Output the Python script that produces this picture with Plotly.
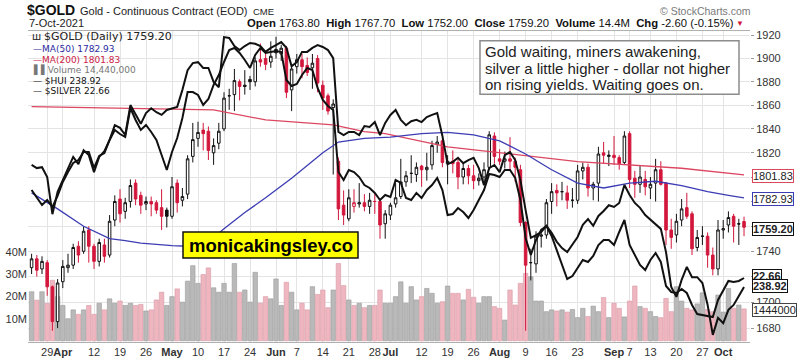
import pandas as pd
import plotly.graph_objects as go

# ---------------- data ----------------
holidays = ['2021-04-02', '2021-05-31', '2021-07-05', '2021-09-06']
dates = [d.strftime('%Y-%m-%d') for d in pd.bdate_range('2021-03-24', '2021-10-07')
         if d.strftime('%Y-%m-%d') not in holidays]

gold_open = [1727, 1734, 1726, 1731, 1712, 1685, 1716, 1727, 1729, 1744,
             1740, 1757, 1744, 1732, 1745, 1737, 1765, 1782, 1772, 1780,
             1795, 1785, 1778, 1780, 1779, 1775, 1773, 1768, 1795, 1781,
             1786, 1817, 1832, 1839, 1838, 1820, 1828, 1840, 1868, 1869,
             1880, 1877, 1882, 1880, 1899, 1900, 1897, 1908, 1904, 1909,
             1873, 1893, 1899, 1894, 1892, 1900, 1877, 1868, 1858, 1813,
             1777, 1766, 1776, 1778, 1779, 1776, 1780, 1780, 1762, 1769,
             1778, 1784, 1796, 1803, 1802, 1809, 1806, 1810, 1827, 1830,
             1811, 1813, 1812, 1800, 1807, 1801, 1797, 1800, 1808, 1834,
             1815, 1813, 1815, 1813, 1806, 1763, 1731, 1730, 1752, 1753,
             1780, 1789, 1788, 1787, 1781, 1781, 1805, 1808, 1791, 1795,
             1820, 1817, 1818, 1816, 1812, 1836, 1799, 1794, 1798, 1791,
             1795, 1806, 1795, 1757, 1753, 1765, 1775, 1770, 1743, 1752,
             1752, 1737, 1726, 1757, 1761, 1768, 1762, 1763.8]
gold_high = [1738, 1737, 1736, 1733, 1713, 1718, 1733, 1738, 1746, 1748,
             1760, 1760, 1746, 1750, 1750, 1769, 1785, 1790, 1783, 1798,
             1798, 1788, 1784, 1784, 1781, 1790, 1775, 1800, 1798, 1791,
             1818, 1845, 1846, 1845, 1842, 1832, 1845, 1871, 1874, 1891,
             1882, 1890, 1885, 1901, 1913, 1906, 1915, 1919, 1912, 1911,
             1895, 1904, 1904, 1901, 1904, 1903, 1881, 1870, 1865, 1816,
             1789, 1790, 1790, 1795, 1786, 1787, 1787, 1782, 1773, 1779,
             1795, 1815, 1805, 1818, 1812, 1810, 1820, 1830, 1834, 1832,
             1818, 1822, 1815, 1811, 1810, 1810, 1803, 1812, 1838, 1837,
             1823, 1821, 1833, 1816, 1810, 1764, 1742, 1756, 1758, 1782,
             1795, 1794, 1796, 1793, 1791, 1810, 1812, 1811, 1796, 1825,
             1829, 1822, 1834, 1818, 1838, 1838, 1805, 1809, 1805, 1800,
             1815, 1813, 1796, 1766, 1770, 1782, 1787, 1772, 1757, 1760,
             1755, 1743, 1765, 1765, 1772, 1770, 1766, 1767.7]
gold_low = [1722, 1720, 1722, 1705, 1678, 1680, 1711, 1723, 1726, 1731,
            1738, 1731, 1726, 1728, 1731, 1735, 1760, 1763, 1766, 1775,
            1777, 1770, 1773, 1768, 1770, 1757, 1759, 1766, 1771, 1776,
            1782, 1812, 1825, 1822, 1814, 1810, 1823, 1838, 1856, 1855,
            1864, 1869, 1873, 1876, 1893, 1890, 1892, 1900, 1898, 1866,
            1855, 1887, 1883, 1885, 1874, 1871, 1856, 1852, 1802, 1765,
            1761, 1764, 1771, 1775, 1772, 1770, 1770, 1750, 1750, 1765,
            1775, 1782, 1792, 1795, 1796, 1792, 1797, 1806, 1820, 1808,
            1794, 1803, 1790, 1794, 1794, 1790, 1793, 1796, 1806, 1811,
            1810, 1807, 1805, 1796, 1760, 1678, 1717, 1723, 1743, 1750,
            1770, 1776, 1781, 1774, 1775, 1778, 1798, 1784, 1781, 1780,
            1811, 1809, 1810, 1806, 1810, 1791, 1783, 1787, 1785, 1782,
            1780, 1793, 1745, 1742, 1747, 1760, 1766, 1737, 1740, 1745,
            1727, 1721, 1721, 1750, 1755, 1747, 1745, 1752.0]
gold_close = [1734, 1725, 1732, 1712, 1685, 1715, 1728, 1729, 1743, 1737,
              1756, 1744, 1732, 1747, 1736, 1764, 1780, 1770, 1779, 1793,
              1782, 1777, 1780, 1778, 1773, 1768, 1768, 1792, 1779, 1784,
              1815, 1831, 1837, 1836, 1822, 1826, 1838, 1866, 1868, 1881,
              1876, 1876, 1880, 1898, 1897, 1895, 1902, 1905, 1909, 1871,
              1891, 1899, 1893, 1888, 1896, 1879, 1866, 1855, 1861, 1774,
              1769, 1783, 1779, 1779, 1776, 1781, 1780, 1761, 1770, 1777,
              1783, 1796, 1801, 1803, 1808, 1806, 1808, 1826, 1829, 1812,
              1813, 1811, 1800, 1807, 1801, 1797, 1799, 1806, 1835, 1817,
              1813, 1815, 1813, 1808, 1763, 1729, 1731, 1752, 1753, 1779,
              1788, 1787, 1788, 1781, 1781, 1805, 1808, 1791, 1794, 1819,
              1818, 1818, 1816, 1811, 1834, 1798, 1794, 1800, 1792, 1794,
              1806, 1794, 1757, 1751, 1764, 1774, 1768, 1742, 1751, 1752,
              1737, 1726, 1757, 1758, 1767, 1760, 1761.8, 1759.2]
volume_m = [22.2, 18.4, 22.2, 16.9, 27.4, 20, 16, 10, 14, 12,
            14, 16, 12, 17, 14, 19, 17, 18, 16, 17,
            16, 16.5, 13.5, 14, 18.5, 22, 16, 20, 23.5, 17.5,
            27, 34, 26, 30, 33, 24, 22, 26, 22, 35,
            22, 23, 17.5, 31, 17, 20, 19, 28, 16, 26.5,
            22, 14, 17, 14, 24.5, 21, 23, 15, 23, 35,
            25, 18.5, 16, 17, 15, 16, 16, 23, 17, 17,
            20, 26.7, 17, 24.5, 18.5, 20, 23.7, 21.5, 17, 17.7,
            24.8, 21.5, 21.5, 18.5, 23.3, 19.7, 17, 20, 20, 15.5,
            14.7, 9.4, 23, 16.2, 26, 30.5, 29, 18, 18, 13.2,
            14, 13.5, 14, 13, 14.2, 10.5, 14.7, 11, 15.7, 13.2,
            19.6, 10.5, 17, 14.7, 10.8, 18, 24.8, 15.5, 14.7, 13.2,
            11, 10.5, 19.2, 13.2, 24.5, 18, 14.7, 14, 16.7, 21.7,
            14.2, 13.2, 20.7, 13, 23.7, 14.7, 16.2, 14.44]
hui = [263.09, 261.17, 258.97, 260.35, 258.42, 261.45, 265.29, 268.04, 270.51, 271.33,
       273.53, 273.53, 269.14, 272.43, 273.26, 276.83, 279.58, 278.48, 277.65, 285.62,
       282.32, 279.58, 280.95, 279.03, 276.83, 272.71, 268.59, 273.53, 277.38, 282.87,
       290.01, 290.01, 289.19, 286.44, 288.09, 291.94, 294.68, 298.26, 301.55, 302.10,
       300.73, 298.80, 296.61, 300.18, 302.10, 300.73, 301.00, 301.28, 301.00, 293.31,
       291.66, 292.21, 294.68, 296.61, 296.06, 291.11, 287.82, 286.17, 285.07, 268.04,
       265.84, 268.59, 268.04, 266.66, 264.47, 263.64, 262.27, 260.35, 261.72, 261.17,
       265.84, 265.02, 260.90, 260.35, 262.27, 260.90, 263.09, 264.47, 266.39, 263.09,
       256.23, 256.50, 258.15, 257.05, 255.40, 257.60, 260.35, 263.09, 267.49, 267.21,
       266.66, 268.59, 268.59, 266.39, 260.35, 249.91, 245.24, 249.36, 252.11, 253.20,
       250.46, 246.61, 242.49, 238.65, 239.47, 241.67, 243.86, 243.32, 244.96, 247.99,
       249.36, 249.36, 247.99, 251.56, 254.85, 247.99, 245.24, 242.49, 241.12, 243.86,
       245.79, 243.32, 236.72, 235.07, 234.80, 235.90, 234.80, 231.50, 229.03, 228.76,
       228.48, 228.21, 232.88, 235.62, 238.10, 237.82, 238.10, 238.92]
silver = [25.39, 25.32, 25.34, 25.12, 24.29, 24.79, 25.05, 25.32, 25.57, 25.41,
          25.72, 25.61, 25.23, 25.57, 25.70, 25.95, 26.28, 26.22, 26.06, 26.73,
          26.51, 26.31, 26.55, 26.66, 26.57, 26.51, 26.62, 26.66, 26.69, 27.07,
          27.51, 27.67, 27.69, 27.56, 27.56, 27.25, 27.13, 28.25, 28.23, 28.05,
          27.96, 28.05, 28.12, 28.10, 28.05, 27.92, 28.01, 28.07, 28.14, 28.01,
          27.60, 27.69, 27.92, 27.92, 28.01, 28.07, 28.03, 27.96, 27.78, 26.13,
          26.06, 26.13, 26.13, 26.06, 26.26, 26.24, 26.35, 26.06, 26.33, 26.51,
          26.62, 26.40, 26.28, 26.37, 26.40, 26.35, 26.46, 26.51, 26.55, 26.04,
          25.41, 25.46, 25.55, 25.43, 25.50, 25.55, 25.32, 24.94, 25.32, 25.39,
          25.23, 25.61, 25.68, 25.50, 25.05, 24.38, 23.76, 23.82, 23.89, 24.03,
          23.87, 23.67, 23.53, 23.44, 23.62, 23.78, 24.05, 24.18, 24.03, 24.25,
          24.36, 24.49, 24.45, 24.54, 24.94, 24.72, 24.54, 24.43, 24.27, 24.16,
          24.07, 23.96, 23.44, 22.66, 22.44, 22.82, 23.11, 22.88, 22.88, 22.75,
          22.26, 21.59, 21.97, 21.85, 22.15, 22.26, 22.46, 22.66]
ma50_idx = [0, 5, 10, 15, 18, 21, 27, 30, 33, 35, 37, 41, 45, 50, 56, 59, 64, 69, 75, 80,
            85, 90, 95, 100, 105, 110, 115, 120, 125, 130, 134, 137]
ma50_val = [1787, 1774, 1760, 1750, 1748.5, 1746.5, 1744.5, 1744, 1747, 1751, 1758, 1771,
            1783, 1799, 1820, 1829, 1832, 1833, 1836, 1837, 1835, 1830, 1819, 1806, 1795,
            1791, 1795, 1796.5, 1793, 1788, 1785, 1782.93]
ma200_idx = [0, 22, 35, 45, 58, 64, 68, 80, 105, 125, 132, 137]
ma200_val = [1858.8, 1857.4, 1856, 1847.5, 1843.3, 1837.7, 1836, 1825, 1812.7, 1807.2,
             1804.4, 1801.83]
tick_idx = [3, 6, 12, 17, 22, 27, 32, 37, 42, 47, 51, 56, 61, 66, 69, 75, 80, 85, 90,
            95, 100, 105, 112, 115, 119, 124, 129, 133]
tick_text = ['29', '<b>Apr</b>', '12', '19', '26', '<b>May</b>', '10', '17', '24', '<b>Jun</b>',
             '7', '14', '21', '28', '<b>Jul</b>', '12', '19', '26', '<b>Aug</b>',
             '9', '16', '23', '<b>Sep</b>', '7', '13', '20', '27', '<b>Oct</b>']
price_ticks = [1680, 1700, 1720, 1740, 1760, 1780, 1800, 1820, 1840, 1860, 1880, 1900, 1920]
# labels hidden under the value tags are left blank
price_tick_text = ['1680', '1700', '', '1740', '', '1780', '', '1820', '1840', '1860',
                   '1880', '1900', '1920']
vol_ticks = [10, 20, 30, 40]
vol_tick_text = ['10M', '20M', '30M', '40M']

# ---------------- styling ----------------
RED = '#d3173c'
PINK = '#efb6c0'
GRAY = '#b9b9b9'
BLUE = '#3c3cb4'
MARED = '#dc4660'
ARIAL = 'Liberation Sans, Arial, sans-serif'
VERD = 'DejaVu Sans, Verdana, sans-serif'

L, R, T, B = 28, 750, 31, 342
def fx(px):
    return (px - L) / (R - L)
def fy(py):
    return (B - py) / (B - T)

n = len(dates)
prev = [gold_close[0] - 1] + gold_close[:-1]
up = [gold_close[i] >= prev[i] for i in range(n)]

fig = go.Figure()

# volume (main y axis, bottom layer)
fig.add_trace(go.Bar(
    x=dates, y=volume_m, yaxis='y',
    marker=dict(color=[GRAY if u else PINK for u in up],
                line=dict(color=['#9a9a9a' if u else '#d99aa6' for u in up], width=0.6)),
    hoverinfo='skip', showlegend=False))

# moving averages
fig.add_trace(go.Scatter(x=[dates[i] for i in ma200_idx], y=ma200_val, yaxis='y2',
                         mode='lines', line=dict(color=MARED, width=1.3),
                         hoverinfo='skip', showlegend=False))
fig.add_trace(go.Scatter(x=[dates[i] for i in ma50_idx], y=ma50_val, yaxis='y2',
                         mode='lines', line=dict(color=BLUE, width=1.3),
                         hoverinfo='skip', showlegend=False))

# candles: black = up vs previous close, red = down; hollow if close > open
for flag, col in ((True, '#111111'), (False, RED)):
    idx = [i for i in range(n) if up[i] == flag]
    fig.add_trace(go.Candlestick(
        x=[dates[i] for i in idx],
        open=[gold_open[i] for i in idx], high=[gold_high[i] for i in idx],
        low=[gold_low[i] for i in idx], close=[gold_close[i] for i in idx],
        yaxis='y2',
        increasing=dict(line=dict(color=col, width=1), fillcolor='white'),
        decreasing=dict(line=dict(color=col, width=1), fillcolor=col),
        whiskerwidth=0, hoverinfo='skip', showlegend=False))

# overlays
fig.add_trace(go.Scatter(x=dates, y=hui, yaxis='y3', mode='lines',
                         line=dict(color='#111111', width=2), name='$HUI',
                         hoverinfo='skip', showlegend=False))
fig.add_trace(go.Scatter(x=dates, y=silver, yaxis='y4', mode='lines',
                         line=dict(color='#111111', width=2), name='$SILVER',
                         hoverinfo='skip', showlegend=False))

grid = '#e4e4e4'
fig.update_layout(
    template='none',
    width=803, height=362,
    margin=dict(l=L, r=803 - R, t=T, b=362 - B, pad=0, autoexpand=False),
    paper_bgcolor='white', plot_bgcolor='white',
    showlegend=False, bargap=0.14,
    xaxis=dict(type='category', range=[-0.692, 138.15], automargin=False,
               tickmode='array', tickvals=[dates[i] for i in tick_idx], ticktext=tick_text,
               tickangle=0,
               showgrid=True, gridcolor=grid, gridwidth=1, zeroline=False,
               showline=True, mirror=True, linecolor='#b0b0b0', linewidth=1,
               ticks='', tickfont=dict(family=ARIAL, size=11, color='#333'),
               rangeslider=dict(visible=False), fixedrange=True),
    yaxis=dict(range=[-0.54, 140.2], side='left', tickmode='array', automargin=False,
               tickvals=vol_ticks, ticktext=vol_tick_text, showgrid=False,
               zeroline=False, showline=False, ticks='',
               tickfont=dict(family=ARIAL, size=11, color='#333'), fixedrange=True),
    yaxis2=dict(overlaying='y', side='right', type='log', automargin=False,
                range=[3.22256, 3.28422], tickmode='array', tickvals=price_ticks,
                ticktext=price_tick_text,
                showgrid=True, gridcolor=grid, gridwidth=1, zeroline=False,
                showline=False, ticks='outside', ticklen=3, tickcolor='#999',
                tickfont=dict(family=ARIAL, size=11, color='#333'), fixedrange=True),
    yaxis3=dict(overlaying='y', range=[221.34, 306.77], visible=False, fixedrange=True),
    yaxis4=dict(overlaying='y', range=[21.430, 28.387], visible=False, fixedrange=True),
)

ann = []
def add(text, px, py, size, color='#222', family=ARIAL, xanchor='left', **kw):
    d = dict(text=text, x=fx(px), y=fy(py), xref='paper', yref='paper',
             xanchor=xanchor, yanchor='middle', showarrow=False,
             font=dict(family=family, size=size, color=color))
    d.update(kw)
    ann.append(d)

# header
add('<b>$GOLD</b>', 25, 10, 14, '#111')
add('Gold - Continuous Contract (EOD)', 78, 11, 11, '#222')
add('CME', 251, 11.5, 9.5, '#222')
add('7-Oct-2021', 27, 23, 11, '#222')
add('\u00a9 StockCharts.com', 753, 11, 10.5, '#7a7a7a', xanchor='right')
stats = ('<b>Open</b> 1763.80  <b>High</b> 1767.70  <b>Low</b> 1752.00  '
         '<b>Close</b> 1759.20  <b>Volume</b> 14.4M  <b>Chg</b> -2.60 (-0.15%) ')
add(stats, 739, 23, 11.3, '#111', xanchor='right')
add('\u25bc', 746, 23.5, 8, RED, xanchor='right')

# legend block
add('\u0448', 30, 36.5, 10, '#222', family=VERD)
add('$GOLD (Daily) 1759.20', 42, 36.5, 11, '#222', family=VERD)
add('\u2014MA(50) 1782.93', 31, 49.3, 9, '#2c2ca0', family=VERD)
add('\u2014MA(200) 1801.83', 31, 60, 9, '#cc2244', family=VERD)
add('\u258c\u258cVolume 14,440,000', 31, 70.5, 9, '#777777', family=VERD)
add('\u2014 $HUI 238.92', 31, 80.8, 9, '#111', family=VERD)
add('\u2014 $SILVER 22.66', 31, 91, 9, '#111', family=VERD)

# comment box text
add('Gold waiting, miners awakening,', 483, 51.7, 15, '#222')
add('silver a little higher - dollar not higher', 483, 68.3, 15, '#222')
add('on rising yields. Waiting goes on.', 483, 84.5, 15, '#222')

# watermark box
add('<b>monicakingsley.co</b>', 270.5, 245.5, 18.5, '#000', xanchor='center')

# value tags on the right
def tag(text, py, border, bold=False):
    add(('<b>%s</b>' % text) if bold else text, 752, py, 11, '#222',
        bgcolor='white', bordercolor=border, borderwidth=1, borderpad=0)
tag('1801.83', 175.5, MARED)
tag('1782.93', 198.5, BLUE)
tag('1759.20', 229.5, '#111', True)
tag('22.66', 276, '#111', True)
tag('238.92', 285.5, '#111', True)
tag('1444000', 310, '#444')

fig.update_layout(annotations=ann)

shapes = [
    dict(type='rect', xref='paper', yref='paper', x0=fx(480), x1=fx(739),
         y0=fy(94.3), y1=fy(40.7), line=dict(color='#8c8c8c', width=1.5),
         fillcolor='white', layer='above'),
    dict(type='rect', xref='paper', yref='paper', x0=fx(183), x1=fx(358),
         y0=fy(258), y1=fy(232), line=dict(color='#111', width=1.5),
         fillcolor='#ffff00', layer='above'),
]
fig.update_layout(shapes=shapes)

fig.write_html('out.html',
               config={'displayModeBar': False},
               post_script="document.body.style.margin='0';"
                           "document.body.style.overflow='hidden';")
